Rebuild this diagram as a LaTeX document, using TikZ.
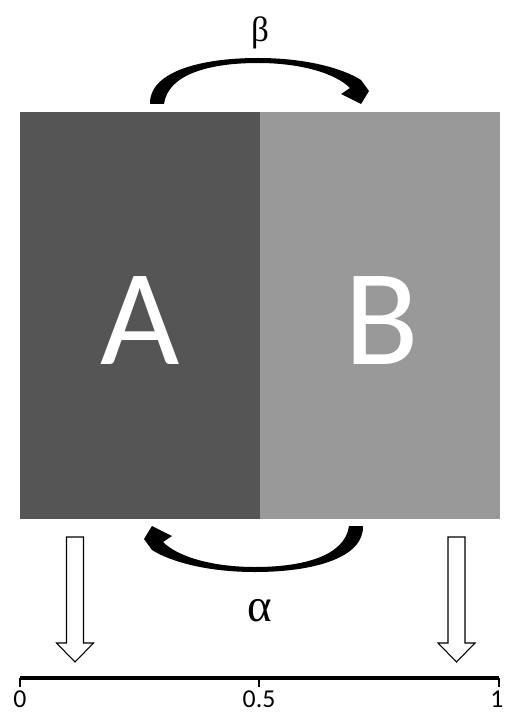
\documentclass[tikz,border=0pt]{standalone}
\usepackage{fontspec}
\setmainfont{Carlito}
\newfontfamily\greekfont{Liberation Serif}
\definecolor{darkA}{HTML}{555555}
\definecolor{lightB}{HTML}{999999}
\begin{document}
\begin{tikzpicture}[x=0.03cm,y=-0.03cm,
  box/.style={draw=none,inner sep=0,minimum width=7.2cm,minimum height=12.21cm},
  letter/.style={text=white,inner sep=0,font=\fontsize{117}{120}\selectfont},
  greek/.style={inner sep=0,font=\greekfont\fontsize{30}{34}\selectfont},
  ticklabel/.style={inner sep=0,font=\fontsize{22}{24}\selectfont},
  hollow/.style={draw=black,fill=white,line width=0.9pt,line join=miter},
  axisline/.style={line width=3.2pt},
  tickline/.style={line width=1.2pt}]
\useasboundingbox (0,0) rectangle (506,712);
% boxes
\node[box,fill=darkA] (boxA) at (140,315.5) {};
\node[box,fill=lightB] (boxB) at (380,315.5) {};
\node[letter] (A) at (140,321) {A};
\node[letter] (B) at (382,321) {B};
% curved arrows
\fill (150,104) .. controls (149,72) and (200,58) .. (258,58)
  .. controls (305,58) and (342,68) .. (361,80) -- (369,91) -- (361,104)
  -- (341,94) -- (350,88) .. controls (335,73) and (300,63) .. (258,63)
  .. controls (210,63) and (168,74) .. (164,104) -- cycle;
\begin{scope}[rotate around={180:(256.5,315)}]
\fill (150,104) .. controls (149,72) and (200,58) .. (258,58)
  .. controls (305,58) and (342,68) .. (361,80) -- (369,91) -- (361,104)
  -- (341,94) -- (350,88) .. controls (335,73) and (300,63) .. (258,63)
  .. controls (210,63) and (168,74) .. (164,104) -- cycle;
\end{scope}
\node[greek] (beta) at (260,33) {β};
\node[greek,font=\greekfont\fontsize{40}{44}\selectfont] (alpha) at (260,611) {α};
% hollow arrows
\foreach \cx in {75,456.5}{
  \draw[hollow] (\cx-8.5,537) -- (\cx+8.5,537) -- (\cx+8.5,643) -- (\cx+18.5,643)
    -- (\cx,662) -- (\cx-18.5,643) -- (\cx-8.5,643) -- cycle;
}
% axis
\coordinate (p0) at (20,678);
\coordinate (p5) at (259,678);
\coordinate (p1) at (499,678);
\draw[tickline] (p0) -- ++(0,9);
\draw[tickline] (p5) -- ++(0,9);
\draw[tickline] (p1) -- ++(0,9);
\draw[axisline] (p0) -- (p1);
\node[ticklabel] (l0) at (20,699) {0};
\node[ticklabel] (l5) at (259,699) {0.5};
\node[ticklabel] (l1) at (497,699) {1};
\end{tikzpicture}
\end{document}
